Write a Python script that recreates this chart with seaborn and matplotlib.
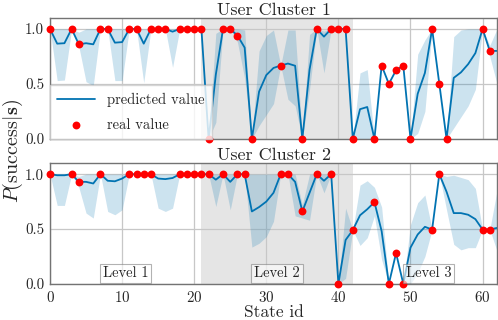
import numpy as np
import pandas as pd
import matplotlib
matplotlib.use("Agg")
import matplotlib.pyplot as plt
import seaborn as sns

# ---------------- data ----------------
state_ids = list(range(63))

pred1 = [1.0, 0.866, 0.87, 1.0, 0.86, 0.87, 0.86, 1.0, 1.0, 0.875,
         0.88, 1.0, 1.0, 0.866, 1.0, 1.0, 1.0, 0.975, 1.0, 1.0,
         1.0, 1.0, 0.0, 0.585, 1.0, 1.0, 0.94, 0.83, 0.0, 0.43,
         0.58, 0.645, 0.667, 0.685, 0.665, 0.0, 0.63, 1.0, 0.93, 1.0,
         1.0, 1.0, 0.0, 0.27, 0.29, 0.0, 0.667, 0.5, 0.625, 0.667,
         0.0, 0.41, 0.6, 1.0, 0.5, 0.0, 0.555, 0.605, 0.68, 0.78,
         1.0, 0.8, 0.8]
low1 = [1.0, 0.53, 0.535, 1.0, 0.84, 0.52, 0.485, 1.0, 1.0, 0.53,
        0.53, 1.0, 1.0, 0.51, 1.0, 1.0, 1.0, 0.65, 1.0, 1.0,
        1.0, 1.0, 0.0, 0.15, 1.0, 1.0, 0.88, 0.55, 0.0, 0.12,
        0.22, 0.32, 0.667, 0.36, 0.3, 0.0, 0.45, 1.0, 0.6, 1.0,
        1.0, 1.0, 0.0, 0.0, 0.0, 0.0, 0.667, 0.5, 0.625, 0.667,
        0.0, 0.05, 0.25, 1.0, 0.5, 0.0, 0.1, 0.2, 0.3, 0.45,
        1.0, 0.75, 0.5]
up1 = [1.0, 1.0, 1.0, 1.0, 0.97, 1.0, 1.0, 1.0, 1.0, 1.0,
       1.0, 1.0, 1.0, 1.0, 1.0, 1.0, 1.0, 1.0, 1.0, 1.0,
       1.0, 1.0, 0.0, 0.96, 1.0, 1.0, 1.0, 0.99, 0.0, 0.8,
       0.94, 0.99, 0.667, 0.99, 0.99, 0.0, 0.95, 1.0, 0.98, 1.0,
       1.0, 1.0, 0.0, 0.6, 0.63, 0.0, 0.667, 0.5, 0.625, 0.667,
       0.0, 0.77, 0.9, 1.0, 0.5, 0.0, 0.93, 0.99, 1.0, 1.0,
       1.0, 0.85, 1.0]
real1_ids = [0, 3, 4, 7, 8, 11, 12, 14, 15, 16, 18, 19, 20, 21, 22, 24, 25,
             26, 28, 32, 35, 37, 39, 40, 41, 42, 45, 46, 47, 48, 49, 50, 53,
             54, 55, 60, 61]
real1_vals = [1.0, 1.0, 0.86, 1.0, 1.0, 1.0, 1.0, 1.0, 1.0, 1.0, 1.0, 1.0,
              1.0, 1.0, 0.0, 1.0, 1.0, 0.94, 0.0, 0.667, 0.0, 1.0, 1.0, 1.0,
              1.0, 0.0, 0.0, 0.667, 0.5, 0.625, 0.667, 0.0, 1.0, 0.5, 0.0,
              1.0, 0.8]

pred2 = [1.0, 0.99, 0.99, 1.0, 0.93, 0.93, 0.915, 1.0, 0.94, 0.935,
         0.96, 1.0, 1.0, 1.0, 1.0, 0.96, 0.955, 0.965, 1.0, 1.0,
         1.0, 1.0, 1.0, 0.95, 1.0, 0.93, 1.0, 1.0, 0.66, 0.7,
         0.75, 0.83, 1.0, 1.0, 0.93, 0.66, 0.83, 1.0, 0.94, 1.0,
         0.0, 0.4, 0.49, 0.625, 0.68, 0.745, 0.48, 0.0, 0.28, 0.0,
         0.33, 0.45, 0.52, 0.495, 1.0, 0.84, 0.645, 0.645, 0.63, 0.59,
         0.495, 0.495, 0.51]
low2 = [1.0, 0.715, 0.715, 1.0, 0.88, 0.645, 0.6, 1.0, 0.66, 0.63,
        0.675, 1.0, 1.0, 1.0, 1.0, 0.69, 0.66, 0.69, 1.0, 1.0,
        1.0, 1.0, 1.0, 0.705, 1.0, 0.675, 1.0, 1.0, 0.335, 0.37,
        0.43, 0.57, 1.0, 1.0, 0.62, 0.6, 0.58, 1.0, 0.83, 1.0,
        0.0, 0.05, 0.49, 0.35, 0.42, 0.62, 0.22, 0.0, 0.28, 0.0,
        0.0, 0.1, 0.25, 0.495, 1.0, 0.675, 0.36, 0.31, 0.33, 0.33,
        0.495, 0.495, 0.3]
up2 = [1.0, 1.0, 1.0, 1.0, 0.98, 1.0, 1.0, 1.0, 1.0, 1.0,
       1.0, 1.0, 1.0, 1.0, 1.0, 1.0, 1.0, 1.0, 1.0, 1.0,
       1.0, 1.0, 1.0, 1.0, 1.0, 1.0, 1.0, 1.0, 1.0, 1.0,
       1.0, 1.0, 1.0, 1.0, 1.0, 0.72, 1.0, 1.0, 1.0, 1.0,
       0.0, 0.69, 0.49, 0.9, 0.94, 0.88, 0.7, 0.0, 0.28, 0.0,
       0.54, 0.74, 0.81, 0.495, 1.0, 0.98, 0.99, 0.97, 0.95, 0.87,
       0.495, 0.495, 0.85]
real2_ids = [0, 3, 4, 7, 11, 12, 13, 14, 18, 19, 20, 21, 22, 24, 26, 27, 32,
             33, 35, 37, 39, 40, 42, 45, 47, 48, 49, 53, 54, 60, 61]
real2_vals = [1.0, 1.0, 0.93, 1.0, 1.0, 1.0, 1.0, 1.0, 1.0, 1.0, 1.0, 1.0,
              1.0, 1.0, 1.0, 1.0, 1.0, 1.0, 0.66, 1.0, 1.0, 0.0, 0.49, 0.745,
              0.0, 0.28, 0.0, 0.495, 1.0, 0.495, 0.495]

titles = ["User Cluster 1", "User Cluster 2"]
level_labels = ["Level 1", "Level 2", "Level 3"]
level_bounds = [0, 21, 42, 63]
x_ticks = [0, 10, 20, 30, 40, 50, 60]
y_ticks = [0.0, 0.5, 1.0]

# ---------------- style ----------------
sns.set_theme(style="whitegrid")
plt.rcParams["font.family"] = ["cmr10", "DejaVu Serif"]
plt.rcParams["mathtext.fontset"] = "cm"
plt.rcParams["axes.formatter.use_mathtext"] = True
plt.rcParams["axes.unicode_minus"] = False

line_col = "#0173b2"

fig = plt.figure(figsize=(4.98, 3.2), dpi=100)
ax1 = fig.add_axes([0.1004, 0.566, 0.8976, 0.378])
ax2 = fig.add_axes([0.1004, 0.113, 0.8976, 0.377], sharex=ax1)

panels = [
    (ax1, pred1, low1, up1, real1_ids, real1_vals),
    (ax2, pred2, low2, up2, real2_ids, real2_vals),
]

for i, (ax, pred, lo, hi, rid, rval) in enumerate(panels):
    ax.axvspan(level_bounds[1], level_bounds[2], color="gray", alpha=0.2,
               lw=0, zorder=0)
    ax.fill_between(state_ids, lo, hi, color=line_col, alpha=0.2, lw=0,
                    zorder=1)
    sns.lineplot(x=state_ids, y=pred, ax=ax, color=line_col, lw=1.3,
                 label="predicted value", zorder=2)
    sns.scatterplot(x=rid, y=rval, ax=ax, color="red", s=32, edgecolor="red",
                    linewidth=0, label="real value", zorder=3, clip_on=False)
    ax.set_xlim(0, 62)
    ax.set_ylim(0, 1.1)
    ax.set_xticks(x_ticks)
    ax.set_yticks(y_ticks)
    ax.set_yticklabels(["0.0", "0.5", "1.0"])
    ax.set_title(titles[i], fontsize=13, pad=2)
    ax.grid(True, color="0.78", lw=0.9)
    for s in ax.spines.values():
        s.set_color("0.45")
        s.set_linewidth(1.0)
    ax.tick_params(axis="both", labelsize=10.8, length=3, width=0.8,
                   color="0.45", pad=1.2)
    ax.set_ylabel("")
    ax.set_xlabel("")

ax1.tick_params(axis="x", labelbottom=False)
ax2.get_legend().remove()
leg = ax1.legend(loc="lower left", borderaxespad=0.0, fontsize=10.5,
                 framealpha=0.8, fancybox=False, edgecolor="0.8",
                 handlelength=2.6, labelspacing=0.75, borderpad=0.5)

for j, lab in enumerate(level_labels):
    xc = (level_bounds[j] + level_bounds[j + 1]) / 2
    ax2.text(xc, 0.095, lab, ha="center", va="center", fontsize=10.5,
             zorder=5,
             bbox=dict(boxstyle="square,pad=0.2", facecolor="white",
                       alpha=0.6, edgecolor="0.5", lw=0.8))

fig.text(0.5491, 0.0, "State id", ha="center", va="bottom", fontsize=12.5)
fig.text(0.025, 0.527, r"$P(\mathrm{success}|\mathbf{s})$", rotation=90,
         ha="center", va="center", fontsize=14.5)

fig.savefig("out.png", dpi=100)
